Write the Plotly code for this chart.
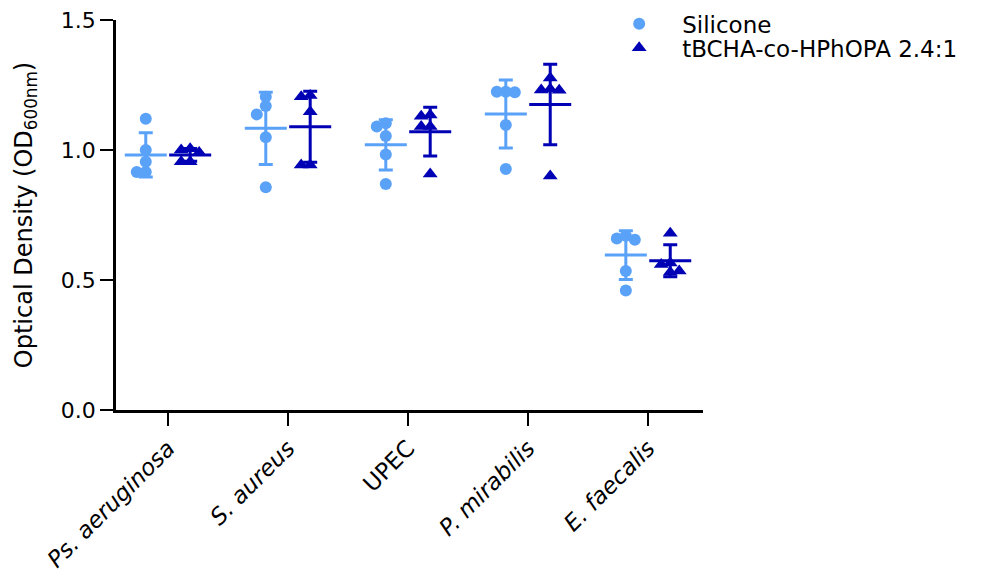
import numpy as np
import plotly.graph_objects as go

categories = ["Ps. aeruginosa", "S. aureus", "UPEC", "P. mirabilis", "E. faecalis"]
tick_labels = ["<i>Ps. aeruginosa</i>", "<i>S. aureus</i>", "UPEC", "<i>P. mirabilis</i>", "<i>E. faecalis</i>"]

silicone = [
    [1.12, 1.00, 0.955, 0.915, 0.915],
    [1.205, 1.169, 1.137, 1.049, 0.857],
    [1.103, 1.090, 1.054, 0.983, 0.869],
    [1.224, 1.224, 1.222, 1.096, 0.927],
    [0.67, 0.66, 0.655, 0.535, 0.46],
]
tbcha = [
    [1.005, 1.00, 0.99, 0.955, 0.955],
    [1.21, 1.205, 1.147, 0.942, 0.942],
    [1.135, 1.13, 1.09, 1.09, 0.908],
    [1.277, 1.235, 1.231, 1.23, 0.90],
    [0.68, 0.565, 0.535, 0.53, 0.56],
]

LIGHT = "#5AA2F8"
DARK = "#0000B4"
FONT = "DejaVu Sans"

# plot-area geometry (px) used for the beeswarm spacing
PLOT_H = 390.0
Y_RANGE = 1.5
SLOT_PX = 9.0
X_UNIT_PX = 120.0
MIN_DIST = 9.0
GROUP_OFF = 0.185


def swarm_slots(vals):
    order = sorted(range(len(vals)), key=lambda i: -vals[i])
    placed = []
    slots = [0] * len(vals)
    for i in order:
        ypx = vals[i] * PLOT_H / Y_RANGE
        for s in [0, -1, 1, -2, 2, -3, 3]:
            ok = True
            for (ps, py) in placed:
                d = np.hypot((s - ps) * SLOT_PX, ypx - py)
                if d < MIN_DIST:
                    ok = False
                    break
            if ok:
                slots[i] = s
                placed.append((s, ypx))
                break
    return slots


fig = go.Figure()


def add_group(data, name, color, symbol, offset, msize, legend):
    xs, ys = [], []
    mx, my, sd = [], [], []
    for ci, vals in enumerate(data):
        slots = swarm_slots(vals)
        for v, s in zip(vals, slots):
            xs.append(ci + offset + s * SLOT_PX / X_UNIT_PX)
            ys.append(v)
        mx.append(ci + offset)
        my.append(float(np.mean(vals)))
        sd.append(float(np.std(vals, ddof=1)))
    fig.add_trace(go.Scatter(
        x=xs, y=ys, mode="markers", name=name, legend=legend,
        marker=dict(symbol=symbol, size=msize, color=color, line=dict(width=0)),
        cliponaxis=False, showlegend=True,
    ))
    fig.add_trace(go.Scatter(
        x=mx, y=my, mode="markers", showlegend=False,
        marker=dict(symbol="line-ew", size=30, line=dict(width=3, color=color)),
        error_y=dict(type="data", array=sd, visible=True, color=color,
                     thickness=3, width=7),
        cliponaxis=False,
    ))


add_group(silicone, "Silicone", LIGHT, "circle", -GROUP_OFF, 12, "legend")
add_group(tbcha, "tBCHA-co-HPhOPA 2.4:1", DARK, "triangle-up", GROUP_OFF, 13, "legend2")

leg_common = dict(xanchor="left", yanchor="middle", font=dict(size=23),
                  itemwidth=76, bgcolor="rgba(0,0,0,0)", borderwidth=0)

fig.update_layout(
    width=1004, height=576,
    margin=dict(l=108, r=309, t=12, b=174, autoexpand=False),
    paper_bgcolor="white", plot_bgcolor="white",
    font=dict(family=FONT, size=22, color="black"),
    legend=dict(x=0.818, y=0.99, **leg_common),
    legend2=dict(x=0.818, y=0.929, **leg_common),
)
fig.update_xaxes(
    range=[-0.433, 4.458], tickvals=list(range(len(categories))), ticktext=tick_labels,
    showline=True, linecolor="black", linewidth=2.5, ticks="outside", ticklen=13,
    tickwidth=2, tickcolor="black", tickangle=-45, showgrid=False, zeroline=False,
    tickfont=dict(size=23), automargin=False, ticklabeloverflow="allow",
)
fig.update_yaxes(
    range=[0, 1.5], tickvals=[0, 0.5, 1.0, 1.5], tickformat=".1f",
    showline=True, linecolor="black", linewidth=2.5, ticks="outside", ticklen=13,
    tickwidth=2, tickcolor="black", showgrid=False, zeroline=False,
    tickfont=dict(size=22), automargin=False, ticklabeloverflow="allow",
    title=dict(text="Optical Density (OD<sub>600nm</sub>)", font=dict(size=24), standoff=22),
)

fig.write_html("out.html")
